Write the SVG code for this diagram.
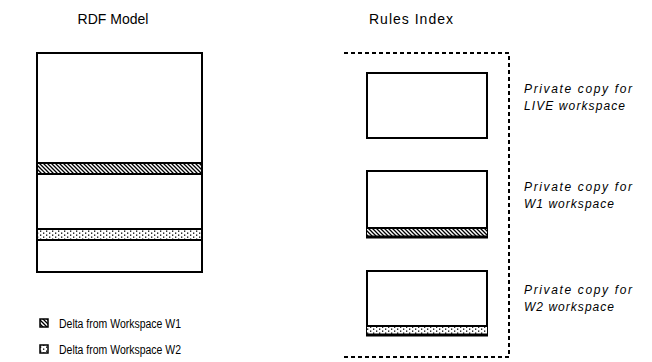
<svg xmlns="http://www.w3.org/2000/svg" width="652" height="362" viewBox="0 0 652 362">
<style>
.box{fill:#fff;stroke:#000;stroke-width:2}
.title{font-family:"Liberation Sans",Arial,sans-serif;font-size:14px;fill:#000}
.lbl{font-family:"Liberation Sans",Arial,sans-serif;font-size:12px;font-style:italic;fill:#000}
.leg{font-family:"Liberation Sans",Arial,sans-serif;font-size:12px;fill:#000}
.ln{stroke:#000;stroke-width:2;fill:none}
.hb{fill:url(#hatch)}
.db{fill:url(#dots)}
.dash{stroke:#000;stroke-width:2;fill:none;stroke-dasharray:4 3}
</style>
<defs>
<pattern id="hatch" width="4" height="4" patternUnits="userSpaceOnUse">
<rect width="4" height="4" fill="#fff"/>
<path d="M-1,-1 L5,5 M-1,3 L1,5 M3,-1 L5,1" stroke="#000" stroke-width="1.3"/>
</pattern>
<pattern id="dots" width="6" height="4" patternUnits="userSpaceOnUse">
<rect width="6" height="4" fill="#fff"/>
<rect x="1" y="0.5" width="1.3" height="1.3" fill="#000"/>
<rect x="4" y="2.5" width="1.3" height="1.3" fill="#000"/>
</pattern>
</defs>

<g id="rdf-model">
<text class="title" x="113" y="24" text-anchor="middle">RDF Model</text>
<rect class="box" x="37" y="53" width="165" height="219"/>
<rect class="hb" x="37" y="163" width="165" height="11"/>
<line class="ln" x1="37" y1="163" x2="202" y2="163"/>
<line class="ln" x1="37" y1="174" x2="202" y2="174"/>
<rect class="db" x="37" y="229" width="165" height="11"/>
<line class="ln" x1="37" y1="229" x2="202" y2="229"/>
<line class="ln" x1="37" y1="240" x2="202" y2="240"/>
<rect x="37" y="53" width="165" height="219" fill="none" stroke="#000" stroke-width="2"/>
</g>

<g id="rules-index">
<text class="title" x="369" y="24" textLength="84" lengthAdjust="spacing">Rules Index</text>
<path class="dash" d="M344,53 H509 V357 H344"/>
</g>

<g id="copy-live">
<rect class="box" x="367" y="73" width="120" height="65"/>
<text class="lbl" x="524" y="93" textLength="108" lengthAdjust="spacing">Private copy for</text>
<text class="lbl" x="524" y="110" textLength="101" lengthAdjust="spacing">LIVE workspace</text>
</g>

<g id="copy-w1">
<rect class="box" x="367" y="171" width="120" height="66"/>
<rect class="hb" x="367" y="228" width="120" height="9"/>
<line class="ln" x1="367" y1="228" x2="487" y2="228"/>
<line x1="366" y1="237" x2="488" y2="237" stroke="#000" stroke-width="3"/>
<text class="lbl" x="524" y="191" textLength="108" lengthAdjust="spacing">Private copy for</text>
<text class="lbl" x="524" y="208" textLength="90" lengthAdjust="spacing">W1 workspace</text>
</g>

<g id="copy-w2">
<rect class="box" x="367" y="271" width="120" height="64"/>
<rect class="db" x="367" y="326" width="120" height="9"/>
<line class="ln" x1="367" y1="326" x2="487" y2="326"/>
<line x1="366" y1="335" x2="488" y2="335" stroke="#000" stroke-width="3"/>
<text class="lbl" x="524" y="294" textLength="108" lengthAdjust="spacing">Private copy for</text>
<text class="lbl" x="524" y="311" textLength="90" lengthAdjust="spacing">W2 workspace</text>
</g>

<g id="legend">
<rect x="40" y="319" width="8" height="8" class="hb" stroke="#000" stroke-width="1.5"/>
<text class="leg" x="59" y="328" textLength="122" lengthAdjust="spacingAndGlyphs">Delta from Workspace W1</text>
<rect x="40" y="345" width="8" height="8" class="db" stroke="#000" stroke-width="1.5"/>
<text class="leg" x="59" y="354" textLength="122" lengthAdjust="spacingAndGlyphs">Delta from Workspace W2</text>
</g>
</svg>
